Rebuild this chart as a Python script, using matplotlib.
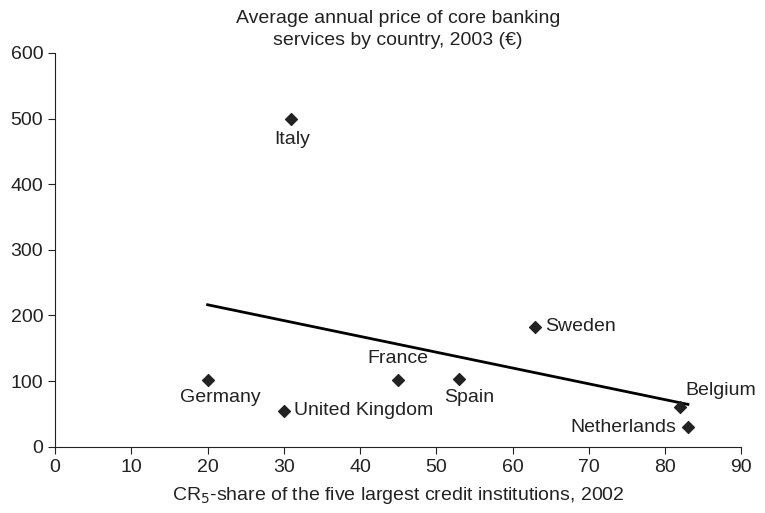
import numpy as np
import matplotlib
matplotlib.use('Agg')
import matplotlib.pyplot as plt

plt.rcParams['font.family'] = ['Liberation Sans', 'DejaVu Sans']

countries = ['Italy', 'Sweden', 'Germany', 'United Kingdom', 'France', 'Spain', 'Belgium', 'Netherlands']
cr5_share = [31, 63, 20, 30, 45, 53, 82, 83]
price = [500, 183, 102, 55, 102, 104, 60, 30]

# label offsets in pixels (dx, dy) and alignment
label_pos = {
    'Italy': (1, -21, 'center'),
    'Sweden': (10, 0, 'left'),
    'Germany': (13, -18, 'center'),
    'United Kingdom': (10, 0, 'left'),
    'France': (0, 21, 'center'),
    'Spain': (10, -19, 'center'),
    'Belgium': (5, 17, 'left'),
    'Netherlands': (-12, 0, 'right'),
}

fig = plt.figure(figsize=(7.65, 5.13), dpi=100)
ax = fig.add_axes([0.072, 0.129, 0.897, 0.768])

ax.scatter(cr5_share, price, marker='D', s=36, color='#222222', zorder=3)

# linear trend line across the data range
slope, intercept = np.polyfit(cr5_share, price, 1)
xs = np.array([min(cr5_share), max(cr5_share)])
ax.plot(xs, slope * xs + intercept, color='black', lw=2)

fs = 14
for name, x, y in zip(countries, cr5_share, price):
    dx, dy, ha = label_pos[name]
    ax.annotate(name, (x, y), xytext=(dx, dy), textcoords='offset pixels',
                ha=ha, va='center', fontsize=fs, color='#222222')

ax.set_xlim(0, 90)
ax.set_ylim(0, 600)
ax.set_xticks(range(0, 91, 10))
ax.set_yticks(range(0, 601, 100))
ax.tick_params(labelsize=fs, length=5, direction='out', colors='#222222')
for side in ['top', 'right']:
    ax.spines[side].set_visible(False)
for side in ['left', 'bottom']:
    ax.spines[side].set_color('#222222')

ax.set_title('Average annual price of core banking\nservices by country, 2003 (\u20ac)',
             fontsize=fs, color='#222222', pad=6, linespacing=1.35)
ax.set_xlabel('CR$_5$-share of the five largest credit institutions, 2002',
              fontsize=fs, color='#222222', labelpad=7)

fig.savefig('out.png', dpi=100)
